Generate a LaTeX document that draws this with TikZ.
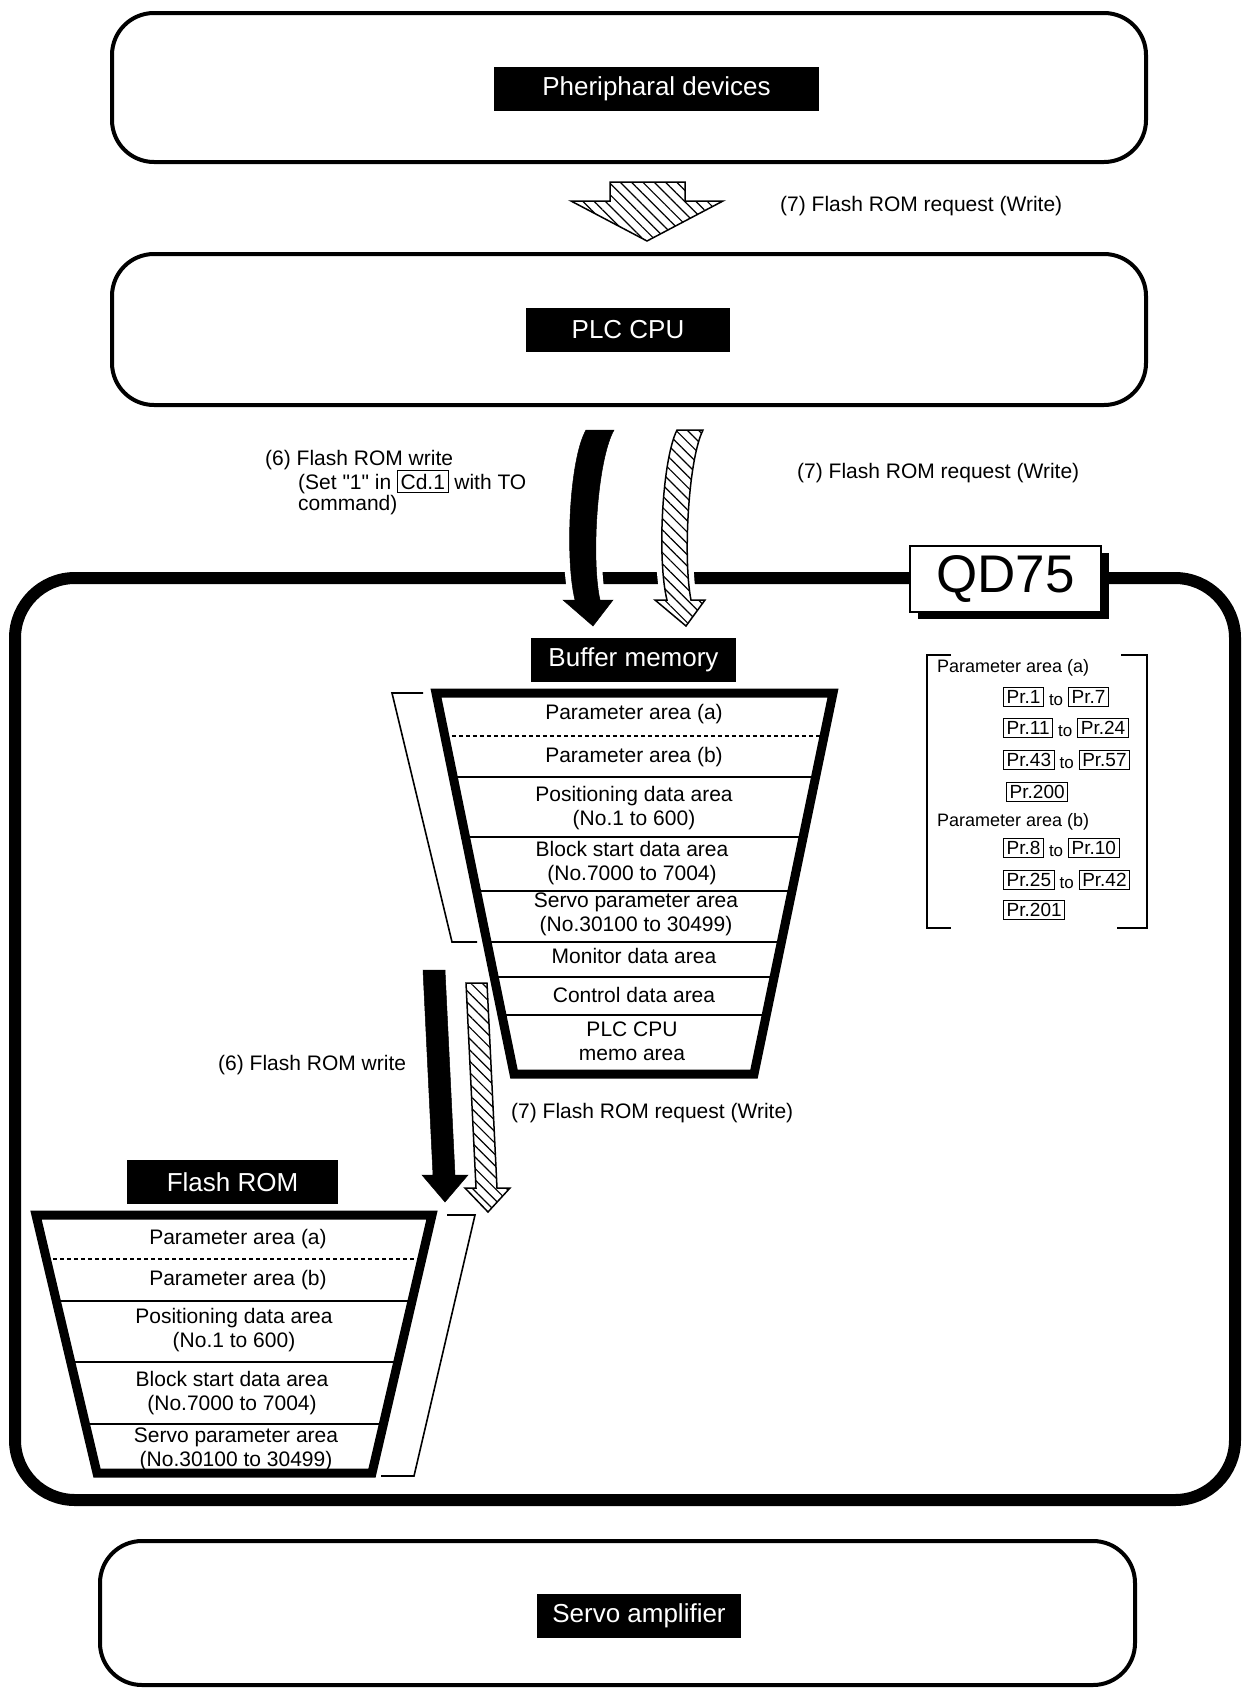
\documentclass[tikz,border=0pt]{standalone}
\usepackage{fontspec}
\setmainfont{Liberation Sans}[Ligatures=TeXOff]
\usetikzlibrary{patterns.meta,calc}
\newcommand\prbox[1]{{\fontsize{19}{22}\selectfont\setlength\fboxsep{2.5pt}\setlength\fboxrule{1pt}\fbox{#1}}}
\newcommand\tosmall{\hspace{5pt}{\fontsize{17}{19}\selectfont\raisebox{-1.5pt}{to}}\hspace{5pt}}
\begin{document}
\begin{tikzpicture}[x=1pt,y=-1pt,
  body/.style={font=\fontsize{21}{24}\selectfont, inner sep=0pt, align=center},
  note/.style={font=\fontsize{21}{24}\selectfont, inner sep=0pt, anchor=west},
  small/.style={font=\fontsize{18}{21}\selectfont, inner sep=0pt, anchor=west},
  lbl/.style={fill=black, text=white, font=\fontsize{26}{30}\selectfont, minimum height=44pt, inner sep=0pt},
  thinbox/.style={draw=black, line width=4pt, rounded corners=42pt, inner sep=0pt},
  hatch/.style={preaction={fill=white}, pattern={Lines[angle=-45,distance=8pt,line width=1.2pt]}, draw=black, line width=1.5pt, line join=miter},
  solidarrow/.style={fill=black, draw=black, line width=0.5pt, line join=miter},
  halo/.style={draw=white, line width=12pt, line join=round},
  trap/.style={draw=black, line width=9pt, line join=miter},
  rowline/.style={draw=black, line width=2pt},
  dashrow/.style={draw=black, line width=1.5pt, dash pattern=on 4pt off 3pt},
  brk/.style={draw=black, line width=1.6pt},
]
\useasboundingbox[fill=white] (0,0) rectangle (1244,1689);

% ---------- outer boxes ----------
\node[thinbox, minimum width=1034pt, minimum height=149pt] (periphbox) at (629,87.5) {};
\node[lbl, minimum width=325pt] (periph) at (656.5,89) {Pheripharal devices};

\node[thinbox, minimum width=1034pt, minimum height=151pt] (plcbox) at (629,329.5) {};
\node[lbl, minimum width=204pt] (plc) at (628,329.5) {PLC CPU};

\node[thinbox, minimum width=1035pt, minimum height=144pt] (servobox) at (617.5,1613) {};
\node[lbl, minimum width=204pt] (servo) at (639,1616) {Servo amplifier};

% ---------- top hatched block arrow ----------
\draw[hatch] (610,182) -- (685,182) -- (685,201) -- (723,201) -- (647,241) -- (571,201) -- (610,201) -- cycle;
\node[note] (req1) at (780,206) {(7) Flash ROM request (Write)};

% ---------- QD75 module ----------
\node[draw=black, line width=12pt, rounded corners=60pt, minimum width=1220pt, minimum height=922pt, inner sep=0pt] (qdbox) at (625,1039) {};
\fill[black] (918,553) rectangle (1109,619);
\node[draw=black, fill=white, line width=2.5pt, minimum width=191pt, minimum height=66pt, inner sep=0pt,
      font=\fontsize{53}{60}\selectfont] (qd) at (1005.5,579) {QD75};

% ---------- curved arrows PLC CPU -> buffer memory ----------
\def\blackcurve{(586,430) .. controls (569,460) and (565,560) .. (575,600) -- (563,600) -- (593,626) -- (613,600) -- (600,600) .. controls (591,560) and (597,460) .. (614,430) -- cycle}
\def\hatchcurve{(677,430) .. controls (662,460) and (657,560) .. (667,600) -- (655,600) -- (686,626) -- (705,600) -- (691,600) .. controls (683,560) and (688,460) .. (703,430) -- cycle}
\path[halo] \blackcurve;
\path[halo] \hatchcurve;
\path[solidarrow] \blackcurve;
\path[hatch] \hatchcurve;

\node[note] (w6a) at (265,460) {(6) Flash ROM write};
\node[note] (w6b) at (298,482) {(Set "1" in \prbox{\fontsize{21}{24}\selectfont Cd.1} with TO};
\node[note] (w6c) at (298,505) {command)};
\node[note] (req2) at (797,473) {(7) Flash ROM request (Write)};

% ---------- buffer memory ----------
\node[lbl, minimum width=205pt] (buf) at (633.5,660) {Buffer memory};
\coordinate (bTL) at (436,693);
\coordinate (bTR) at (833,693);
\coordinate (bBL) at (514,1074);
\coordinate (bBR) at (754,1074);
\draw[dashrow] ({436+(736-693)/381*78},736) -- ({833-(736-693)/381*79},736);
\foreach \yy in {777,837,891,942,977,1015} {
  \draw[rowline] ({436+(\yy-693)/381*78},\yy) -- ({833-(\yy-693)/381*79},\yy);
}
\draw[trap] (bTL) -- (bTR) -- (bBR) -- (bBL) -- cycle;
\node[body] (ba) at (634,714) {Parameter area (a)};
\node[body] (bb) at (634,757) {Parameter area (b)};
\node[body] (bp) at (634,808) {Positioning data area\\(No.1 to 600)};
\node[body] (bs) at (632,863.5) {Block start data area\\(No.7000 to 7004)};
\node[body] (bv) at (636,914.5) {Servo parameter area\\(No.30100 to 30499)};
\node[body] (bm) at (634,956) {Monitor data area};
\node[body] (bc) at (634,995) {Control data area};
\node[body] (bo) at (632,1041.5) {PLC CPU\\memo area};
\draw[brk] (423,693) -- (392,693) -- (452,942) -- (477,942);

% ---------- parameter list ----------
\draw[brk] (951,655) -- (927,655) -- (927,928) -- (951,928);
\draw[brk] (1121,655) -- (1147,655) -- (1147,928) -- (1117,928);
\node[small] (pa) at (937,668) {Parameter area (a)};
\node[small] (p1) at (1003,697) {\prbox{Pr.1}\tosmall\prbox{Pr.7}};
\node[small] (p2) at (1003,728) {\prbox{Pr.11}\tosmall\prbox{Pr.24}};
\node[small] (p3) at (1003,760) {\prbox{Pr.43}\tosmall\prbox{Pr.57}};
\node[small] (p4) at (1006,792) {\prbox{Pr.200}};
\node[small] (pb) at (937,822) {Parameter area (b)};
\node[small] (p5) at (1003,848) {\prbox{Pr.8}\tosmall\prbox{Pr.10}};
\node[small] (p6) at (1003,880) {\prbox{Pr.25}\tosmall\prbox{Pr.42}};
\node[small] (p7) at (1003,910) {\prbox{Pr.201}};

% ---------- straight arrows buffer -> flash ROM ----------
\path[solidarrow] (423,970) -- (445,970) -- (455,1175) -- (468,1175) -- (445,1202) -- (422,1175) -- (433,1175) -- cycle;
\path[hatch] (466,983) -- (487,983) -- (497,1188) -- (510,1188) -- (488,1212) -- (465,1188) -- (476,1188) -- cycle;
\node[note] (w6d) at (218,1065) {(6) Flash ROM write};
\node[note] (req3) at (511,1113) {(7) Flash ROM request (Write)};

% ---------- flash ROM ----------
\node[lbl, minimum width=211pt] (flash) at (232.5,1182) {Flash ROM};
\coordinate (fTL) at (36,1215);
\coordinate (fTR) at (432,1215);
\coordinate (fBL) at (97,1473);
\coordinate (fBR) at (372,1473);
\draw[dashrow] ({36+(1259-1215)/258*61},1259) -- ({432-(1259-1215)/258*60},1259);
\foreach \yy in {1301,1362,1424} {
  \draw[rowline] ({36+(\yy-1215)/258*61},\yy) -- ({432-(\yy-1215)/258*60},\yy);
}
\draw[trap] (fTL) -- (fTR) -- (fBR) -- (fBL) -- cycle;
\node[body] (fa) at (238,1239) {Parameter area (a)};
\node[body] (fb) at (238,1280) {Parameter area (b)};
\node[body] (fp) at (234,1330.5) {Positioning data area\\(No.1 to 600)};
\node[body] (fs) at (232,1393) {Block start data area\\(No.7000 to 7004)};
\node[body] (fv) at (236,1449.5) {Servo parameter area\\(No.30100 to 30499)};
\draw[brk] (447,1215) -- (475,1215) -- (414,1476) -- (381,1476);
\end{tikzpicture}
\end{document}
